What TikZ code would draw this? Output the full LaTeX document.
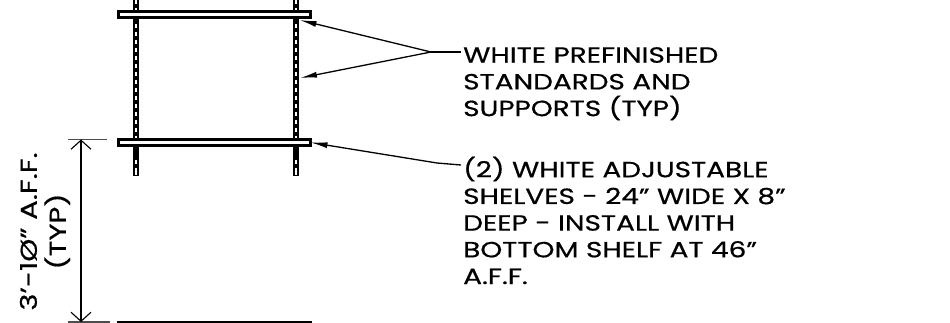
\documentclass[tikz,border=0pt]{standalone}
\usepackage{fontspec}
\setmainfont{Poppins}[FakeStretch=1.27,FakeBold=0.6]
\usetikzlibrary{arrows.meta}
\tikzset{
  x=1pt,y=-1pt,
  shelf/.style={draw=black,fill=white,line width=2.4pt,minimum width=192pt,minimum height=6pt,inner sep=0pt,outer sep=0pt},
  post/.style={line width=6pt,black,line cap=butt},
  postdash/.style={line width=1.8pt,white,dash pattern=on 4pt off 4pt},
  leader/.style={line width=1.3pt,black},
  pointer/.style={leader,-{Latex[length=17pt,width=6pt]}},
  dimline/.style={line width=1.1pt,black,{Straight Barb[length=9pt,width=20pt]}-{Straight Barb[length=9pt,width=20pt]}},
  tick/.style={line width=1.1pt,black!70},
  note/.style={anchor=north west,align=left,inner sep=0pt,font=\fontsize{22}{26.7}\selectfont},
  dimtext/.style={rotate=90,align=center,inner sep=0pt,font=\fontsize{23}{29}\selectfont}
}
\begin{document}
\begin{tikzpicture}
\useasboundingbox (0,0) rectangle (950,323);
% standards
\foreach \n/\px in {l/136.3,r/296.3}{
  \coordinate (top\n) at (\px,0);
  \coordinate (bot\n) at (\px,176);
  \draw[post] (top\n) -- (bot\n);
  \draw[postdash] (\px,0.5) -- (\px,175);
  \draw[white,line width=1.8pt] (\px,172) -- (\px,175.2);
  \draw[post] (\px,146) -- (\px,156);
  \draw[post] (\px,17) -- (\px,23);
}
% shelves
\node[shelf] (shelfA) at (214.5,14.5) {};
\node[shelf] (shelfB) at (214.5,142.5) {};
\draw[black,line width=1.3pt] (117,322) -- (312,322);
\coordinate (ptrA) at (299.5,20);
\coordinate (ptrB) at (300,78);
% notes
\node[note] (noteA) at (463,47) {WHITE PREFINISHED\\STANDARDS AND\\SUPPORTS (TYP)};
\node[note] (noteB) at (463,156.5) {(2) WHITE ADJUSTABLE\\SHELVES - 24" WIDE X 8"\\DEEP - INSTALL WITH\\BOTTOM SHELF AT 46"\\A.F.F.};
\coordinate (elbowA) at (431,52);
\coordinate (elbowB) at (437,163);
\draw[leader] (elbowA) -- (461,52);
\draw[pointer] (elbowA) -- (ptrA);
\draw[pointer] (elbowA) -- (ptrB);
\draw[leader] (461,165) -- (elbowB);
\draw[pointer] (elbowB) -- (shelfB.east);
% dimension
\coordinate (dimT) at (81,139.5);
\coordinate (dimB) at (81,322);
\draw[tick] (68,139.5) -- (107,139.5);
\draw[tick] (68,322) -- (110,322);
\draw[dimline] (dimT) -- (dimB);
\node[dimtext] (dimlabel) at (45,231.5) {3'-1Ø" A.F.F.\\(TYP)};
\end{tikzpicture}
\end{document}
